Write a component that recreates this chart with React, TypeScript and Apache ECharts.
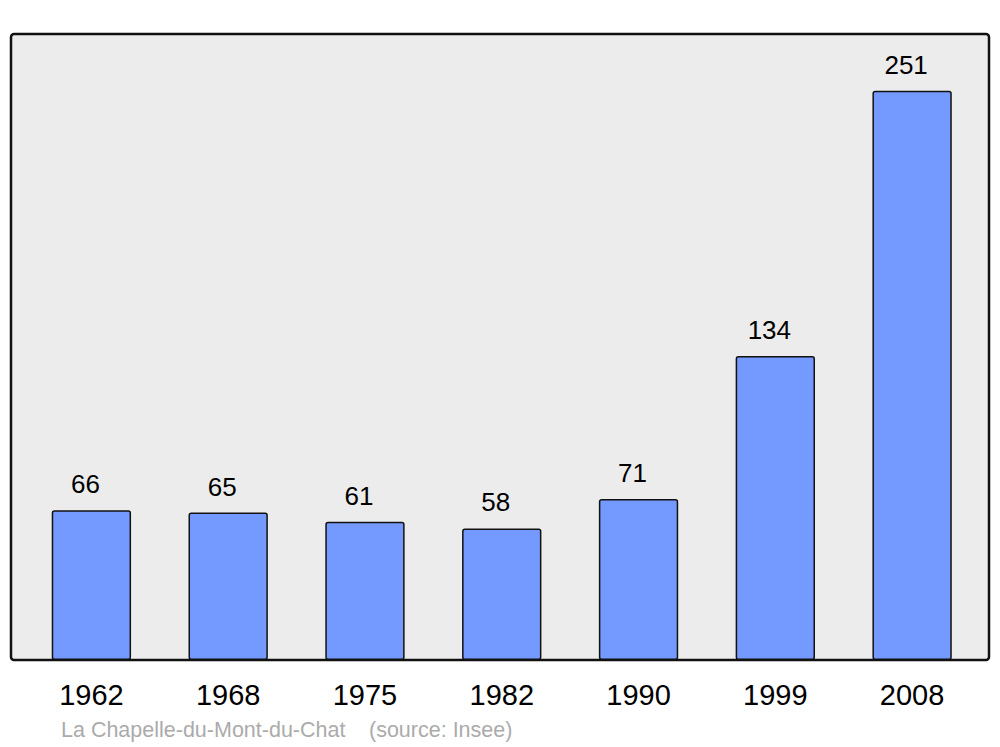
import React, { useEffect, useRef } from "react";
import * as echarts from "echarts";

const years = ["1962", "1968", "1975", "1982", "1990", "1999", "2008"];
const population = [66, 65, 61, 58, 71, 134, 251];
const footerName = "La Chapelle-du-Mont-du-Chat";
const footerSource = "(source: Insee)";

export default function App() {
  const ref = useRef<HTMLDivElement>(null);
  useEffect(() => {
    if (!ref.current) return;
    const chart = echarts.init(ref.current, undefined, { renderer: "svg" });
    const font = "'Liberation Sans', Arial, sans-serif";
    chart.setOption({
      animation: false,
      backgroundColor: "#ffffff",
      grid: { left: 23, right: 19.5, top: 34, bottom: 87, containLabel: false },
      xAxis: {
        type: "category",
        data: years,
        axisLine: { show: false },
        axisTick: { show: false },
        axisLabel: { color: "#000", fontSize: 29, fontFamily: font, margin: 20 },
      },
      yAxis: {
        type: "value",
        min: 0,
        max: 276,
        show: false,
        splitLine: { show: false },
      },
      graphic: [
        {
          type: "rect",
          z: -10,
          shape: { x: 11, y: 34, width: 978, height: 626, r: 3 },
          style: { fill: "#ececec", stroke: "#111111", lineWidth: 2.5 },
        },
        {
          type: "text",
          x: 61,
          y: 730,
          style: {
            text: footerName,
            fill: "#ababab",
            fontSize: 21.5,
            fontFamily: font,
            verticalAlign: "middle",
          },
        },
        {
          type: "text",
          x: 369,
          y: 730,
          style: {
            text: footerSource,
            fill: "#ababab",
            fontSize: 21.5,
            fontFamily: font,
            verticalAlign: "middle",
          },
        },
      ],
      series: [
        {
          type: "bar",
          data: population,
          barWidth: "58%",
          itemStyle: {
            color: "#7499ff",
            borderColor: "#111111",
            borderWidth: 1.5,
            borderRadius: 2,
          },
          label: {
            show: true,
            position: "top",
            distance: 13,
            offset: [-6, 0],
            color: "#000",
            fontSize: 26,
            fontFamily: font,
          },
        },
      ],
    });
    return () => chart.dispose();
  }, []);
  return (
    <div
      ref={ref}
      style={{ position: "fixed", left: 0, top: 0, width: 1000, height: 747 }}
    />
  );
}
